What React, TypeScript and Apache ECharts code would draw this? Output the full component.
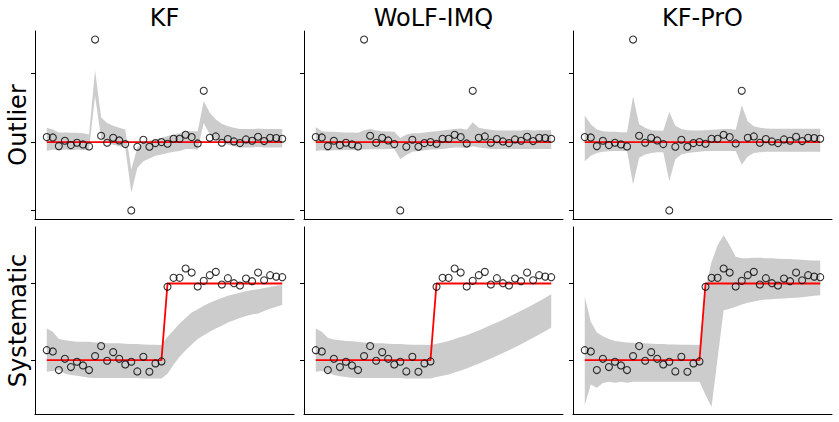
import React, { useEffect, useRef } from "react";
import * as echarts from "echarts";

// Time steps shared by every panel
const steps = [
  0, 1, 2, 3, 4, 5, 6, 7, 8, 9, 10, 11, 12, 13, 14, 15, 16, 17, 18, 19,
  20, 21, 22, 23, 24, 25, 26, 27, 28, 29, 30, 31, 32, 33, 34, 35, 36, 37, 38, 39,
];

const methods = ["KF", "WoLF-IMQ", "KF-PrO"];
const scenarios = ["Outlier", "Systematic"];

// Outlier scenario: latent signal and noisy observations
const outlierTruth = [
  0, 0, 0, 0, 0, 0, 0, 0, 0, 0, 0, 0, 0, 0, 0, 0, 0, 0, 0, 0,
  0, 0, 0, 0, 0, 0, 0, 0, 0, 0, 0, 0, 0, 0, 0, 0, 0, 0, 0, 0,
];
const outlierObs = [
  0.73, 0.68, -0.59, 0.2, -0.44, -0.1, -0.34, -0.63, 15.0, 0.93,
  -0.1, 0.63, 0.24, -0.29, -10.0, -0.68, 0.34, -0.68, -0.15, 0.0,
  -0.24, 0.49, 0.49, 1.07, 0.73, -0.2, 7.5, 0.63, 0.83, -0.1,
  0.44, 0.1, -0.15, 0.39, 0.2, 0.78, 0.15, 0.63, 0.59, 0.49,
];

// Systematic scenario: step change in the signal
const systematicTruth = [
  0, 0, 0, 0, 0, 0, 0, 0, 0, 0, 0, 0, 0, 0, 0, 0, 0, 0, 0, 0,
  10, 10, 10, 10, 10, 10, 10, 10, 10, 10, 10, 10, 10, 10, 10, 10, 10, 10, 10, 10,
];
const systematicObs = [
  1.3, 1.13, -1.3, 0.17, -0.91, -0.22, -0.7, -1.3, 0.52, 1.83,
  -0.09, 1.04, 0.17, -0.57, -0.22, -1.48, 0.43, -1.52, -0.43, -0.17,
  9.57, 10.74, 10.74, 11.96, 11.43, 9.61, 10.35, 11.09, 11.52, 9.87,
  10.7, 10.04, 9.74, 10.65, 10.3, 11.43, 10.43, 11.09, 10.9, 10.83,
];

// Posterior credible bands (lower / upper) per method and scenario
const kfOutlierLower = [
  -1.3, -1.1, -1.2, -1.1, -1.2, -1.1, -1.2, -1.1, 6.7, 0.6,
  -0.1, -0.4, -0.6, -0.8, -7.4, -3.8, -2.8, -2.4, -2.0, -1.8,
  -1.6, -1.4, -1.3, -1.0, -1.0, -1.1, 2.8, 1.1, 0.4, -0.1,
  -0.4, -0.6, -0.8, -0.8, -0.8, -0.7, -0.8, -0.8, -0.8, -0.8,
];
const kfOutlierUpper = [
  2.1, 1.85, 1.4, 1.4, 1.35, 1.35, 1.3, 1.1, 10.5, 3.6,
  2.8, 2.4, 2.1, 1.85, -4.0, -0.8, 0.0, 0.2, 0.4, 0.6,
  0.9, 1.1, 1.3, 1.6, 1.6, 1.6, 6.0, 4.3, 3.3, 2.7,
  2.3, 2.1, 1.9, 1.9, 1.9, 2.0, 1.9, 1.9, 1.9, 1.9,
];
const wolfOutlierLower = [
  -1.3, -1.2, -1.25, -1.2, -1.2, -1.15, -1.15, -1.1, -1.1, -1.05,
  -1.05, -1.05, -1.0, -1.0, -2.5, -1.9, -1.4, -1.3, -1.2, -1.1,
  -1.1, -1.0, -0.9, -0.8, -0.8, -0.9, -0.6, -0.8, -0.9, -1.0,
  -1.0, -1.0, -1.0, -1.0, -1.0, -1.0, -1.0, -1.0, -1.0, -1.0,
];
const wolfOutlierUpper = [
  2.2, 1.6, 1.5, 1.5, 1.45, 1.4, 1.4, 1.35, 1.75, 1.9,
  1.7, 1.6, 1.55, 1.5, 0.6, 1.1, 1.3, 1.3, 1.4, 1.5,
  1.6, 1.7, 1.8, 1.9, 2.0, 1.8, 2.9, 2.1, 1.9, 1.8,
  1.7, 1.7, 1.7, 1.7, 1.7, 1.8, 1.7, 1.75, 1.75, 1.75,
];
const proOutlierLower = [
  -2.8, -2.0, -1.6, -1.4, -1.35, -1.3, -1.3, -1.3, -6.2, -2.3,
  -1.8, -1.6, -1.5, -1.5, -5.7, -2.5, -1.8, -1.6, -1.5, -1.4,
  -1.3, -1.3, -1.3, -1.3, -1.3, -1.3, -3.3, -2.1, -1.6, -1.5,
  -1.4, -1.4, -1.4, -1.4, -1.4, -1.4, -1.4, -1.4, -1.4, -1.4,
];
const proOutlierUpper = [
  3.9, 2.6, 1.85, 1.6, 1.5, 1.5, 1.45, 1.45, 6.7, 2.6,
  2.1, 1.75, 1.7, 1.65, 4.4, 2.4, 1.9, 1.75, 1.7, 1.7,
  1.75, 1.8, 1.85, 1.9, 1.9, 1.8, 5.4, 3.0, 2.3, 2.1,
  2.0, 1.95, 1.95, 1.95, 1.95, 1.95, 1.95, 1.95, 1.95, 1.95,
];

const kfSystematicLower = [
  -1.52, -1.43, -1.3, -1.74, -1.96, -2.04, -2.17, -2.3, -2.35, -2.35,
  -2.35, -2.35, -2.35, -2.35, -2.35, -2.35, -2.4, -2.4, -2.4, -2.4,
  -1.8, -0.6, 0.43, 1.3, 2.04, 2.74, 3.26, 3.7, 4.13, 4.48,
  4.9, 5.2, 5.5, 5.75, 5.95, 6.1, 6.4, 6.7, 6.95, 7.2,
];
const kfSystematicUpper = [
  4.13, 3.7, 2.74, 2.6, 2.5, 2.4, 2.4, 2.4, 2.3, 2.25,
  2.2, 2.2, 2.2, 2.15, 2.1, 2.1, 2.05, 2.0, 2.0, 1.96,
  3.04, 3.9, 4.78, 5.5, 6.2, 6.65, 7.1, 7.5, 7.8, 8.1,
  8.4, 8.6, 8.8, 9.0, 9.15, 9.26, 9.4, 9.55, 9.7, 9.8,
];
const wolfSystematicLower = [
  -1.52, -1.43, -1.6, -1.96, -2.1, -2.2, -2.3, -2.35, -2.35, -2.35,
  -2.35, -2.35, -2.35, -2.35, -2.35, -2.4, -2.4, -2.4, -2.4, -2.4,
  -2.22, -2.05, -1.87, -1.61, -1.35, -1.09, -0.78, -0.48, -0.13, 0.22,
  0.56, 0.91, 1.3, 1.69, 2.08, 2.48, 2.91, 3.35, 3.78, 4.25,
];
const wolfSystematicUpper = [
  4.13, 3.7, 2.9, 2.7, 2.6, 2.5, 2.45, 2.4, 2.3, 2.25,
  2.2, 2.2, 2.15, 2.1, 2.1, 2.05, 2.0, 2.0, 2.0, 1.96,
  2.13, 2.3, 2.48, 2.74, 3.0, 3.26, 3.57, 3.87, 4.22, 4.57,
  4.91, 5.26, 5.65, 6.04, 6.43, 6.83, 7.26, 7.7, 8.13, 8.6,
];
const proSystematicLower = [
  -5.87, -3.2, -3.6, -3.0, -2.83, -2.95, -2.83, -2.95, -2.83, -2.83,
  -2.83, -2.83, -2.83, -2.83, -2.83, -2.83, -2.83, -2.83, -2.83, -2.83,
  -4.57, -6.1, 0.2, 6.5, 6.7, 6.96, 7.26, 7.5, 7.65, 7.8,
  7.9, 7.95, 8.0, 8.05, 8.1, 8.13, 8.2, 8.3, 8.4, 8.48,
];
const proSystematicUpper = [
  8.26, 5.0, 3.6, 3.1, 2.74, 2.5, 2.4, 2.3, 2.26, 2.2,
  2.2, 2.15, 2.1, 2.1, 2.05, 2.05, 2.0, 2.0, 2.0, 1.96,
  9.35, 12.8, 15.0, 16.3, 15.0, 13.5, 13.3, 13.3, 13.35, 13.35,
  13.3, 13.3, 13.25, 13.2, 13.2, 13.15, 13.1, 13.05, 13.0, 13.0,
];

// Tick positions on the y axes
const outlierTicks = [-10, 0, 10];
const systematicTicks = [0, 10];

const FONT = "DejaVu Sans";

export default function App() {
  const ref = useRef<HTMLDivElement>(null);

  useEffect(() => {
    if (!ref.current) return;
    const chart = echarts.init(ref.current, undefined, { renderer: "svg" });

    const rows = [
      {
        truth: outlierTruth,
        obs: outlierObs,
        ticks: outlierTicks,
        range: [-11.25, 16.25],
        bands: [
          [kfOutlierLower, kfOutlierUpper],
          [wolfOutlierLower, wolfOutlierUpper],
          [proOutlierLower, proOutlierUpper],
        ],
      },
      {
        truth: systematicTruth,
        obs: systematicObs,
        ticks: systematicTicks,
        range: [-7.04, 17.38],
        bands: [
          [kfSystematicLower, kfSystematicUpper],
          [wolfSystematicLower, wolfSystematicUpper],
          [proSystematicLower, proSystematicUpper],
        ],
      },
    ];

    const panelLefts = [35, 304, 573];
    const panelWidth = 259;
    const rowTops = [31, 227];
    const rowHeights = [188, 187];

    const grids: any[] = [];
    const xAxes: any[] = [];
    const yAxes: any[] = [];
    const series: any[] = [];

    rows.forEach((row, r) => {
      methods.forEach((_, c) => {
        const k = grids.length;
        grids.push({
          left: panelLefts[c],
          top: rowTops[r],
          width: panelWidth,
          height: rowHeights[r],
          containLabel: false,
        });
        xAxes.push({
          gridIndex: k,
          type: "value",
          min: -1.95,
          max: 40.95,
          axisLine: { show: true, onZero: false, lineStyle: { color: "#000", width: 1 } },
          axisTick: { show: false },
          axisLabel: { show: false },
          splitLine: { show: false },
        });
        yAxes.push({
          gridIndex: k,
          type: "value",
          min: row.range[0],
          max: row.range[1],
          axisLine: { show: true, onZero: false, lineStyle: { color: "#000", width: 1 } },
          axisTick: {
            show: true,
            inside: false,
            length: 4,
            customValues: row.ticks,
            lineStyle: { color: "#000", width: 1 },
          },
          axisLabel: { show: false, customValues: row.ticks },
          splitLine: { show: false },
        });

        const [lo, hi] = row.bands[c];
        series.push({
          type: "custom",
          xAxisIndex: k,
          yAxisIndex: k,
          silent: true,
          z: 1,
          data: steps.map((s, i) => [s, lo[i], hi[i]]),
          encode: { x: 0, y: [1, 2] },
          renderItem: (params: any, api: any) => {
            if (params.dataIndex !== 0) return null;
            const upperPts = steps.map((s, i) => api.coord([s, hi[i]]));
            const lowerPts = steps.map((s, i) => api.coord([s, lo[i]])).reverse();
            return {
              type: "polygon",
              shape: { points: upperPts.concat(lowerPts) },
              style: { fill: "#cccccc", stroke: "none" },
            };
          },
        });
        series.push({
          type: "line",
          xAxisIndex: k,
          yAxisIndex: k,
          silent: true,
          z: 2,
          symbol: "none",
          data: steps.map((s, i) => [s, row.truth[i]]),
          lineStyle: { color: "#ff0000", width: 1.8 },
        });
        series.push({
          type: "scatter",
          xAxisIndex: k,
          yAxisIndex: k,
          silent: true,
          z: 3,
          symbol: "circle",
          symbolSize: 7,
          data: steps.map((s, i) => [s, row.obs[i]]),
          itemStyle: { color: "rgba(255,255,255,0)", borderColor: "#000", borderWidth: 1.1 },
        });
      });
    });

    const graphics: any[] = [];
    methods.forEach((m, c) => {
      graphics.push({
        type: "text",
        x: panelLefts[c] + panelWidth / 2,
        y: 17.5,
        silent: true,
        style: {
          text: m,
          font: `24px '${FONT}'`,
          fill: "#000",
          textAlign: "center",
          textVerticalAlign: "middle",
        },
      });
    });
    scenarios.forEach((s, r) => {
      graphics.push({
        type: "text",
        x: 18,
        y: rowTops[r] + rowHeights[r] / 2,
        rotation: Math.PI / 2,
        silent: true,
        style: {
          text: s,
          font: `24px '${FONT}'`,
          fill: "#000",
          textAlign: "center",
          textVerticalAlign: "middle",
        },
      });
    });

    chart.setOption({
      animation: false,
      backgroundColor: "#ffffff",
      grid: grids,
      xAxis: xAxes,
      yAxis: yAxes,
      series,
      graphic: graphics,
    });

    return () => chart.dispose();
  }, []);

  return (
    <div
      ref={ref}
      style={{ position: "absolute", left: 0, top: 0, width: 839, height: 422 }}
    />
  );
}
